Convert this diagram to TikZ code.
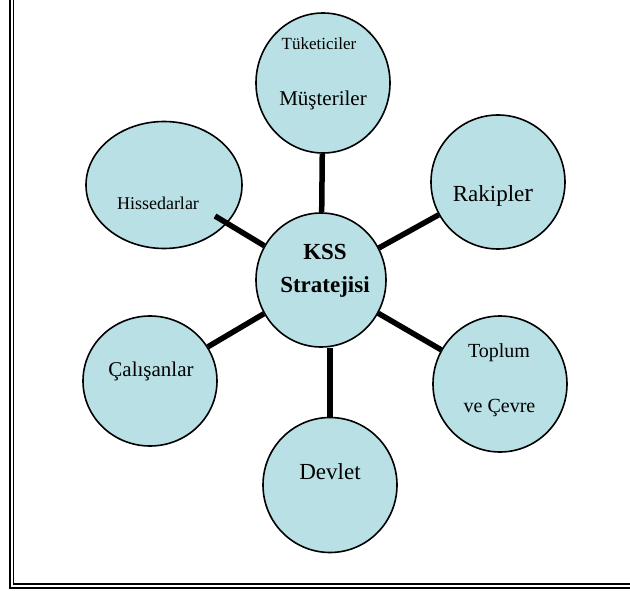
\documentclass[tikz,border=0pt]{standalone}
\usepackage{fontspec}
\setmainfont{Liberation Serif}
\usetikzlibrary{shapes.geometric}
\definecolor{bubble}{RGB}{185,224,228}
\newcommand\fsz[1]{\fontsize{#1}{#1}\selectfont}
\begin{document}
\begin{tikzpicture}[x=1pt,y=-1pt,
  bub/.style={ellipse, draw=black, line width=1.6pt, fill=bubble, inner sep=0pt},
  link/.style={line width=5.5pt, draw=black},
  lbl/.style={inner sep=0pt, anchor=base, text=black},
  frameline/.style={draw=black}]
\useasboundingbox (0,0) rectangle (630,591);
% frame (left and bottom double line)
\draw[frameline, line width=2pt] (10,0) -- (10,587.5) -- (631,587.5);
\draw[frameline, line width=1.5pt] (13.3,0) -- (13.3,584) -- (631,584);
% bubbles
\node[bub, minimum width=134, minimum height=140] (cus) at (323,83) {};
\node[bub, minimum width=134, minimum height=134] (rak) at (498,182) {};
\node[bub, minimum width=156, minimum height=127] (his) at (164,185) {};
\node[bub, minimum width=130, minimum height=134] (kss) at (321,280) {};
\node[bub, minimum width=134, minimum height=130] (cal) at (150,381) {};
\node[bub, minimum width=134, minimum height=136] (top) at (500,384) {};
\node[bub, minimum width=134, minimum height=135] (dev) at (330,485) {};
% connectors
\coordinate (hend) at (215,216);
\draw[link] (cus) -- (kss);
\draw[link] (kss) -- (rak);
\draw[link] (kss) -- (hend);
\draw[link] (kss) -- (cal);
\draw[link] (kss) -- (top);
\draw[link] (dev.north) -- (dev.north |- kss.south);
% labels
\node[lbl] (t1) at (319,50) {\fsz{17}Tüketiciler};
\node[lbl] (t2) at (323,106) {\fsz{21}Müşteriler};
\node[lbl] (t3) at (493,202) {\fsz{23}Rakiple{\fsz{26}r}};
\node[lbl] (t4) at (158,210) {\fsz{18}Hissedarlar};
\node[lbl] (t5) at (325,260) {\fsz{23}\bfseries KSS};
\node[lbl] (t6) at (325,292) {\fsz{23}\bfseries Stratejisi};
\node[lbl] (t7) at (151,376) {\fsz{21}Çalışanlar};
\node[lbl] (t8) at (499,357) {\fsz{20}Toplum};
\node[lbl] (t9) at (499.5,412) {\fsz{20}ve Çevre};
\node[lbl] (t10) at (330,479) {\fsz{23}Devlet};
\end{tikzpicture}
\end{document}
